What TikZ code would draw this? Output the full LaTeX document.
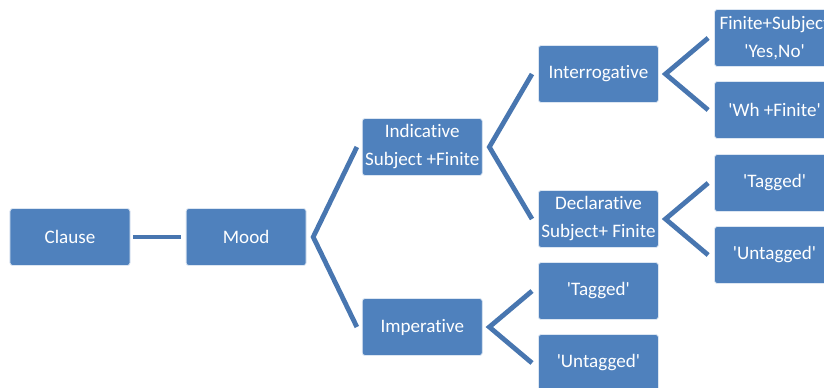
\documentclass[tikz,border=0pt]{standalone}
\usepackage{fontspec}
\setmainfont{Carlito}[Ligatures={TeXOff,NoCommon}]
\usetikzlibrary{positioning}
\definecolor{boxblue}{RGB}{79,129,189}
\definecolor{lineblue}{RGB}{72,118,176}

\begin{document}
\begin{tikzpicture}[
  node distance=41.5pt,
  every node/.style={font=\fontsize{14.3pt}{21pt}\selectfont, align=center},
  box/.style={draw=white!80!boxblue, line width=0.6pt, fill=boxblue, text=white,
    rounded corners=2pt, minimum width=90pt, minimum height=42.75pt, inner sep=1pt},
  link/.style={draw=lineblue, line width=3.6pt}
]
\clip (-52.5pt,-112.5pt) rectangle (565.5pt,177.75pt);

\node[box] (clause) {Clause};
\node[box, right=of clause] (mood) {Mood};

\node[box, right=of mood, yshift=67.5pt] (indic) {Indicative\\Subject +Finite};
\node[box, right=of mood, yshift=-67.5pt] (imper) {Imperative};

\node[box, right=of indic, yshift=54.75pt] (inter) {Interrogative};
\node[box, right=of indic, yshift=-54pt] (decl) {Declarative\\Subject+ Finite};

\node[box, right=of inter, yshift=27pt] (yesno) {Finite+Subject\\'Yes,No'};
\node[box, right=of inter, yshift=-27pt] (wh) {'Wh +Finite'};
\node[box, right=of decl, yshift=27pt] (dtag) {'Tagged'};
\node[box, right=of decl, yshift=-27pt] (duntag) {'Untagged'};

\node[box, right=of imper, yshift=27pt] (itag) {'Tagged'};
\node[box, right=of imper, yshift=-27pt] (iuntag) {'Untagged'};

\draw[link] ([xshift=2pt]clause.east) -- ([xshift=-3.5pt]mood.west);

\draw[link] ([xshift=-3.75pt]indic.west) -- ([xshift=5pt]mood.east) -- ([xshift=-3.75pt]imper.west);
\draw[link] ([xshift=-4.5pt]inter.west) -- ([xshift=5pt]indic.east) -- ([xshift=-4.5pt]decl.west);
\draw[link] ([xshift=-4.5pt]yesno.west) -- ([xshift=5pt]inter.east) -- ([xshift=-4.5pt]wh.west);
\draw[link] ([xshift=-4.5pt]dtag.west) -- ([xshift=5pt]decl.east) -- ([xshift=-4.5pt]duntag.west);
\draw[link] ([xshift=-4.5pt]itag.west) -- ([xshift=5pt]imper.east) -- ([xshift=-4.5pt]iuntag.west);

\end{tikzpicture}
\end{document}
